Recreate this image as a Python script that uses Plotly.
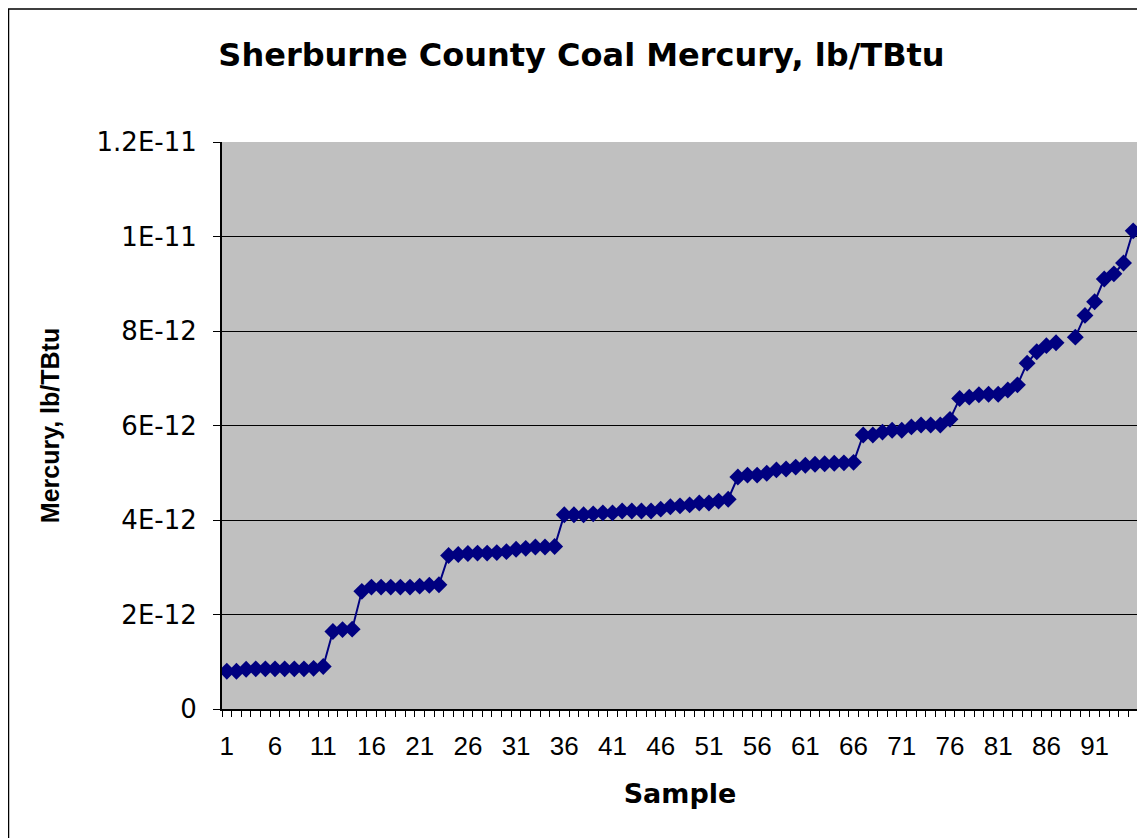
import plotly.graph_objects as go

# Sample numbers (category axis 1..95)
samples = list(range(1, 96))

# Mercury values in units of 1E-12 lb/TBtu (sample 88 missing)
mercury_e12 = [
    0.80, 0.80, 0.84, 0.85, 0.85, 0.85, 0.85, 0.85, 0.85, 0.86, 0.90,
    1.64, 1.68, 1.69,
    2.49, 2.58, 2.58, 2.58, 2.58, 2.58, 2.60, 2.62, 2.63,
    3.25, 3.27, 3.29, 3.30, 3.30, 3.31, 3.33, 3.38, 3.40, 3.43, 3.43, 3.44,
    4.11, 4.11, 4.11, 4.13, 4.15, 4.15, 4.19, 4.19, 4.19, 4.19, 4.23, 4.28,
    4.30, 4.32, 4.36, 4.36, 4.40, 4.44,
    4.91, 4.95, 4.95, 4.99, 5.06, 5.08, 5.12, 5.16, 5.18, 5.19, 5.20, 5.21, 5.22,
    5.80, 5.80, 5.86, 5.90, 5.90, 5.97, 6.01, 6.01, 6.01, 6.13,
    6.57, 6.60, 6.65, 6.66, 6.66, 6.75, 6.86, 7.32, 7.56, 7.69, 7.75,
    None,
    7.87, 8.33, 8.62, 9.10, 9.21, 9.44, 10.12,
]
mercury = [None if v is None else v * 1e-12 for v in mercury_e12]

x_label_vals = list(range(1, 92, 5))
x_label_text = [str(v) for v in x_label_vals]
y_tick_vals = [0, 2e-12, 4e-12, 6e-12, 8e-12, 1e-11, 1.2e-11]
y_tick_text = ["0", "2E-12", "4E-12", "6E-12", "8E-12", "1E-11", "1.2E-11"]

title_text = "Sherburne County Coal Mercury, lb/TBtu"
x_title = "Sample"
y_title = "Mercury, lb/TBtu"

ARIAL = "Liberation Sans, Arial, sans-serif"
WIDE = "DejaVu Sans, Verdana, sans-serif"

# page is drawn with an 8px body margin, so figure coords = page coords - 8
W, H = 1137, 830
L, T = 214, 134
R = W - 1130
B = H - 701
pw, ph = W - L - R, H - T - B

fig = go.Figure()
fig.add_trace(go.Scatter(
    x=samples, y=mercury, mode="lines+markers",
    line=dict(color="#000080", width=2),
    marker=dict(symbol="diamond", size=13, color="#000080"),
    connectgaps=False, showlegend=False,
))

def px_x(p):
    return (p - L) / pw

def px_y(p):
    return (H - B - p) / ph

shapes = [
    # outer chart frame
    dict(type="rect", xref="paper", yref="paper",
         x0=px_x(0.5), x1=px_x(W + 20), y0=px_y(H + 20), y1=px_y(1),
         line=dict(color="black", width=1.5), layer="below"),
    # plot area right border
    dict(type="line", xref="paper", yref="paper",
         x0=1, x1=1, y0=0, y1=1, line=dict(color="#808080", width=2)),
]

fig.update_layout(
    width=W, height=H,
    margin=dict(l=L, r=R, t=T, b=B),
    paper_bgcolor="white", plot_bgcolor="#C0C0C0",
    font=dict(family=ARIAL, color="black", size=26),
    title=dict(text=f"<b>{title_text}</b>", x=573.5 / W, xanchor="center",
               y=1 - 47 / H, yanchor="middle",
               font=dict(family=WIDE, size=32, color="black")),
    shapes=shapes,
)

fig.update_xaxes(
    range=[0.5, 95.5], tickmode="array", tickvals=x_label_vals, ticktext=x_label_text,
    ticks="", showgrid=False, zeroline=False,
    showline=True, linecolor="black", linewidth=2,
    tickfont=dict(family=ARIAL, size=26, color="black"),
    ticklabelstandoff=13,
    minor=dict(tickmode="array", tickvals=[i + 0.5 for i in range(0, 96)],
               ticks="outside", ticklen=6, tickcolor="black", tickwidth=1, showgrid=False),
    title=dict(text=f"<b>{x_title}</b>", font=dict(family=WIDE, size=27, color="black"),
               standoff=24),
)

fig.update_yaxes(
    range=[0, 1.2e-11], tickmode="array", tickvals=y_tick_vals, ticktext=y_tick_text,
    ticks="outside", ticklen=7, tickcolor="black", tickwidth=1,
    showgrid=True, gridcolor="black", gridwidth=1, zeroline=False,
    showline=True, linecolor="black", linewidth=2,
    tickfont=dict(family=WIDE, size=26, color="black"),
    ticklabelstandoff=11,
    title=dict(text=f"<b>{y_title}</b>", font=dict(family=ARIAL, size=25, color="black"),
               standoff=30),
)

fig.write_html("out.html")
